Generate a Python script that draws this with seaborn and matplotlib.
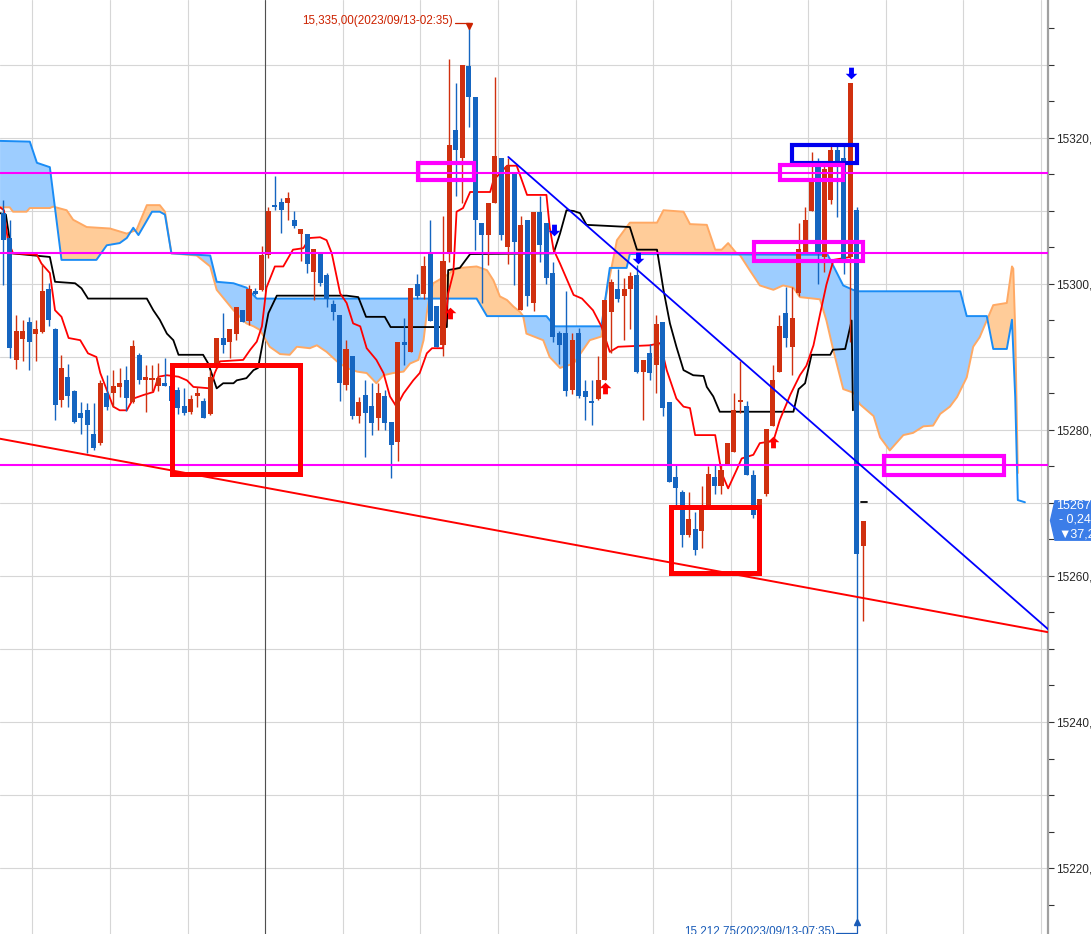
import numpy as np
import pandas as pd
import matplotlib
matplotlib.use('Agg')
import matplotlib.pyplot as plt
import matplotlib.transforms as mtransforms
from matplotlib.patches import Rectangle, Polygon
from matplotlib.ticker import MultipleLocator, FuncFormatter
import seaborn as sns

# 5-minute candles, bar 0 = 20:35 on the left, bar 133 = 07:40
opens = [15309.7, 15306.3, 15289.6, 15292.5, 15294.8, 15293.2, 15293.4, 15299.3, 15293.9, 15284.1,
         15287.2, 15285.3, 15282.3, 15282.7, 15279.5, 15278.2, 15285.0, 15285.0, 15285.9, 15286.8,
         15283.9, 15290.3, 15286.8, 15286.9, 15286.0, 15286.5, 15286.0, 15285.5, 15283.3, 15282.4,
         15284.7, 15284.0, 15282.2, 15288.5, 15292.6, 15292.0, 15293.2, 15296.4, 15294.9, 15299.0,
         15299.2, 15304.0, 15310.8, 15311.2, 15311.1, 15308.8, 15306.9, 15306.9, 15301.7, 15304.2,
         15301.2, 15297.2, 15295.8, 15286.2, 15290.1, 15281.9, 15284.8, 15283.3, 15281.6, 15284.6,
         15281.1, 15278.4, 15292.1, 15290.7, 15300.0, 15298.6, 15304.2, 15297.0, 15291.6, 15304.2,
         15321.1, 15317.2, 15329.9, 15325.6, 15308.4, 15306.7, 15311.1, 15317.2, 15305.0, 15315.4,
         15296.4, 15308.8, 15297.4, 15309.8, 15308.4, 15301.5, 15293.3, 15293.3, 15285.5, 15293.3,
         15285.3, 15283.9, 15284.2, 15286.8, 15296.2, 15299.3, 15298.3, 15299.3, 15301.2, 15288.0,
         15290.5, 15288.9, 15294.8, 15283.8, 15273.5, 15271.5, 15265.6, 15266.5, 15266.2, 15269.6,
         15273.5, 15272.3, 15275.3, 15277.0, 15283.8, 15283.3, 15273.8, 15269.6, 15271.2, 15280.5,
         15288.0, 15296.0, 15291.4, 15298.7, 15304.2, 15310.0, 15316.0, 15303.7, 15311.5, 15318.4,
         15317.3, 15303.7, 15310.2, 15264.1]
highs = [15311.5, 15308.8, 15295.8, 15295.1, 15295.5, 15295.1, 15302.8, 15300.1, 15294.0, 15290.3,
         15289.0, 15285.5, 15283.9, 15283.7, 15283.7, 15286.8, 15287.5, 15288.2, 15288.5, 15288.7,
         15292.3, 15290.5, 15288.9, 15288.9, 15289.2, 15289.8, 15286.5, 15285.9, 15285.8, 15284.8,
         15285.9, 15284.4, 15288.2, 15292.6, 15296.0, 15293.8, 15296.8, 15296.4, 15299.9, 15299.4,
         15305.2, 15310.5, 15314.8, 15311.8, 15312.6, 15310.0, 15307.5, 15306.9, 15304.8, 15304.2,
         15301.5, 15297.8, 15295.8, 15292.3, 15290.1, 15284.5, 15286.8, 15286.4, 15286.4, 15285.5,
         15281.1, 15292.1, 15295.3, 15299.4, 15301.3, 15303.8, 15308.8, 15297.0, 15309.3, 15330.8,
         15327.5, 15330.0, 15335.0, 15325.6, 15308.4, 15311.1, 15328.4, 15317.2, 15317.2, 15315.4,
         15309.3, 15308.8, 15309.8, 15312.0, 15308.4, 15303.0, 15293.5, 15299.0, 15293.3, 15294.0,
         15286.8, 15286.8, 15290.2, 15297.8, 15300.7, 15302.0, 15300.8, 15301.7, 15302.6, 15289.6,
         15291.8, 15295.8, 15294.8, 15283.8, 15275.2, 15271.8, 15271.5, 15268.8, 15272.3, 15275.0,
         15275.2, 15275.2, 15278.2, 15285.0, 15289.4, 15284.0, 15274.5, 15270.5, 15280.2, 15288.9,
         15295.8, 15299.6, 15299.6, 15308.4, 15310.5, 15318.1, 15317.2, 15316.5, 15319.0, 15319.0,
         15319.0, 15327.5, 15310.5, 15267.5]
lows = [15299.9, 15289.8, 15288.3, 15289.4, 15288.2, 15289.4, 15293.3, 15294.2, 15281.4, 15283.2,
        15283.2, 15281.0, 15279.5, 15276.8, 15277.3, 15277.9, 15282.7, 15283.2, 15284.5, 15282.6,
        15283.7, 15286.3, 15282.5, 15285.4, 15285.4, 15286.0, 15283.5, 15282.2, 15282.1, 15282.2,
        15283.2, 15281.7, 15282.1, 15288.5, 15290.5, 15289.9, 15292.3, 15294.8, 15294.4, 15298.5,
        15299.0, 15303.5, 15310.2, 15307.0, 15308.8, 15307.6, 15303.1, 15301.5, 15297.8, 15299.7,
        15296.9, 15295.1, 15284.0, 15285.5, 15281.5, 15281.0, 15276.3, 15279.3, 15280.0, 15280.0,
        15273.4, 15275.8, 15288.9, 15290.7, 15298.0, 15298.0, 15294.9, 15291.4, 15290.1, 15303.0,
        15312.0, 15311.1, 15321.5, 15304.7, 15297.4, 15302.6, 15311.1, 15306.0, 15302.8, 15299.9,
        15296.4, 15297.0, 15296.3, 15303.0, 15300.0, 15292.0, 15289.0, 15284.6, 15284.9, 15284.4,
        15281.4, 15280.7, 15284.1, 15286.8, 15290.5, 15297.5, 15292.3, 15293.8, 15287.8, 15281.4,
        15286.9, 15285.0, 15281.9, 15272.9, 15269.7, 15264.0, 15265.4, 15262.9, 15263.8, 15269.5,
        15271.3, 15271.3, 15275.3, 15277.0, 15282.3, 15273.8, 15267.9, 15269.4, 15271.0, 15280.5,
        15288.0, 15291.4, 15287.5, 15298.3, 15304.2, 15310.0, 15300.0, 15301.6, 15311.0, 15309.2,
        15301.3, 15292.1, 15212.75, 15253.9]
closes = [15306.0, 15291.2, 15293.6, 15293.6, 15292.0, 15293.9, 15299.0, 15295.0, 15283.4, 15288.5,
          15284.7, 15281.1, 15281.7, 15280.7, 15277.5, 15286.5, 15283.2, 15286.0, 15286.5, 15284.4,
          15291.5, 15286.8, 15287.3, 15287.1, 15287.1, 15286.0, 15284.0, 15283.0, 15282.3, 15284.2,
          15285.0, 15281.7, 15287.3, 15292.6, 15291.6, 15293.8, 15296.8, 15294.8, 15299.3, 15298.6,
          15304.0, 15310.0, 15310.5, 15310.1, 15311.8, 15307.9, 15307.5, 15302.7, 15304.8, 15300.2,
          15298.0, 15296.2, 15286.5, 15291.1, 15281.9, 15283.9, 15282.3, 15281.0, 15285.1, 15281.0,
          15277.9, 15292.1, 15291.7, 15299.4, 15298.3, 15302.4, 15294.9, 15291.4, 15303.1, 15319.0,
          15318.4, 15330.0, 15325.6, 15308.7, 15306.7, 15311.1, 15317.5, 15306.7, 15316.2, 15305.7,
          15308.1, 15298.3, 15309.8, 15305.3, 15300.8, 15292.7, 15291.6, 15285.3, 15292.3, 15284.7,
          15284.5, 15283.7, 15286.8, 15297.8, 15300.3, 15298.0, 15299.3, 15301.1, 15288.0, 15289.6,
          15287.8, 15294.5, 15283.0, 15272.9, 15272.0, 15265.6, 15267.8, 15263.6, 15269.6, 15274.0,
          15272.3, 15274.5, 15278.2, 15282.7, 15283.9, 15273.8, 15268.3, 15270.5, 15280.2, 15286.8,
          15294.2, 15292.6, 15295.3, 15304.8, 15308.8, 15314.0, 15304.2, 15315.8, 15318.4, 15316.9,
          15303.4, 15327.5, 15263.0, 15267.5]

# conversion line (red) and base line (black), read as breakpoints (bar index, price)
tenkan_x = [-0.5, 0.1, 0.7, 1.5, 5.2, 5.9, 7.2, 8.0, 9.0, 10.1, 11.9, 13.1, 14.4, 15.0, 16.0, 17.0, 18.0,
            19.1, 20.1, 21.7, 23.2, 24.0, 25.3, 27.1, 28.4, 29.4, 32.0, 32.7, 33.5, 37.1, 38.2, 39.2,
            40.0, 40.7, 42.0, 43.3, 44.8, 46.4, 47.4, 49.0, 50.0, 50.8, 52.1, 53.1, 54.1, 55.2, 56.2,
            57.7, 58.8, 59.8, 60.8, 61.9, 63.4, 64.4, 65.5, 66.3, 68.0, 68.8, 69.6, 70.1, 71.1, 72.2,
            75.3, 75.8, 77.9, 79.4, 81.0, 84.0, 84.5, 85.1, 86.1, 88.2, 89.5, 91.2, 92.5, 93.8, 95.1,
            100.0, 101.6, 102.6, 104.1, 105.2, 106.2, 107.0, 110.1, 111.1, 112.1, 113.4, 114.2, 116.0,
            117.0, 119.1, 120.1, 121.7, 123.2, 124.2, 125.3, 126.3, 127.3, 128.4, 131.0]
tenkan_y = [15310.5, 15310.1, 15306.0, 15304.2, 15304.0, 15302.8, 15301.5, 15296.4, 15295.5, 15292.6,
            15292.3, 15290.5, 15290.0, 15287.8, 15285.5, 15283.2, 15282.7, 15282.7, 15284.3, 15284.8,
            15285.2, 15287.3, 15287.5, 15287.3, 15286.8, 15285.9, 15285.7, 15287.8, 15289.4, 15289.6,
            15291.0, 15292.1, 15294.2, 15299.5, 15302.4, 15302.4, 15304.7, 15304.9, 15306.3, 15306.4,
            15306.0, 15304.2, 15298.7, 15297.4, 15294.6, 15294.2, 15291.2, 15289.6, 15287.8, 15284.6,
            15283.2, 15285.0, 15286.8, 15287.8, 15290.5, 15291.2, 15291.2, 15298.7, 15301.5, 15309.9,
            15310.4, 15312.6, 15312.6, 15314.2, 15316.2, 15316.2, 15312.2, 15312.2, 15307.8, 15304.7,
            15302.8, 15298.5, 15298.0, 15296.4, 15294.2, 15290.7, 15291.4, 15291.6, 15291.9, 15288.2,
            15284.3, 15283.2, 15283.0, 15279.3, 15279.3, 15274.1, 15272.0, 15274.5, 15276.1, 15276.6,
            15278.2, 15278.5, 15281.4, 15284.8, 15287.5, 15288.8, 15291.6, 15295.8, 15299.9, 15303.3,
            15303.7]
kijun_x = [-0.5, 0.4, 1.3, 7.2, 8.0, 11.1, 12.1, 13.1, 22.2, 23.2, 24.2, 25.3, 26.3, 27.1, 30.9, 31.7,
           33.0, 34.0, 35.6, 36.1, 37.6, 38.7, 39.4, 40.2, 41.0, 42.3, 53.1, 54.9, 56.1, 59.0, 59.9,
           68.6, 68.8, 70.6, 72.2, 85.1, 86.1, 87.1, 88.2, 89.2, 90.2, 96.9, 98.0, 101.1, 102.1, 103.1,
           104.1, 105.2, 106.7, 108.3, 108.8, 109.8, 110.8, 122.2, 123.0, 124.0, 125.0, 127.9, 128.3,
           130.2, 131.2, 131.4]
kijun_y = [15309.7, 15309.5, 15304.2, 15303.7, 15300.3, 15300.1, 15299.4, 15298.0, 15298.0, 15296.4,
           15295.1, 15293.2, 15292.3, 15290.3, 15290.3, 15289.1, 15285.7, 15286.4, 15286.4, 15286.8,
           15287.1, 15288.2, 15288.5, 15292.3, 15296.0, 15298.4, 15298.4, 15298.2, 15295.5, 15295.5,
           15294.1, 15294.1, 15301.9, 15302.2, 15304.1, 15304.2, 15306.9, 15310.1, 15310.0, 15309.7,
           15308.1, 15307.8, 15304.7, 15304.7, 15299.2, 15294.6, 15291.4, 15288.2, 15287.5, 15287.4,
           15285.9, 15284.6, 15282.5, 15282.5, 15285.6, 15286.4, 15290.3, 15290.3, 15291.0, 15291.1,
           15295.0, 15282.7]
kijun_last_x = [132.6, 133.5]
kijun_last_y = [15270.1, 15270.1]

# leading spans of the cloud (blue line and orange line)
span_blue_x = [-0.5, 4.1, 5.2, 7.2, 9.0, 14.4, 16.0, 18.0, 19.1, 20.1, 20.9, 23.0, 24.2, 25.0, 26.0,
               32.0, 33.0, 35.6, 37.6, 39.2, 73.2, 74.8, 84.0, 85.3, 92.5, 93.8, 96.4, 96.9, 127.5,
               129.9, 131.4, 132.1, 148.0, 149.0, 152.1, 153.1, 155.2, 156.0, 156.5, 156.9, 158.0]
span_blue_y = [15319.6, 15319.5, 15316.6, 15316.0, 15303.3, 15303.3, 15305.3, 15305.6, 15306.3, 15307.7,
               15306.7, 15309.9, 15309.9, 15309.5, 15304.2, 15303.9, 15300.3, 15300.1, 15299.5, 15298.0,
               15298.0, 15295.6, 15295.6, 15294.2, 15294.2, 15302.2, 15302.2, 15304.1, 15304.0, 15299.8,
               15299.2, 15299.0, 15299.0, 15295.6, 15295.6, 15291.1, 15291.1, 15295.1, 15284.5, 15270.4,
               15270.1]
span_orange_x = [-0.5, 1.0, 1.5, 3.6, 4.1, 7.2, 7.7, 9.8, 10.8, 12.9, 16.5, 19.1, 20.6, 22.2, 24.2,
                 25.0, 26.0, 29.9, 32.0, 33.0, 35.6, 37.6, 38.7, 39.7, 41.2, 42.8, 44.3, 45.4, 47.4,
                 48.5, 50.0, 51.6, 53.1, 54.7, 56.2, 57.7, 58.8, 60.3, 61.9, 62.9, 64.2, 65.0, 65.5,
                 66.0, 66.5, 68.6, 69.6, 70.6, 73.2, 74.8, 75.8, 76.8, 77.9, 78.9, 79.9, 80.4, 80.9,
                 83.5, 84.5, 86.1, 88.2, 90.7, 92.5, 93.1, 94.1, 94.9, 96.9, 101.1, 102.1, 105.2, 106.2,
                 108.8, 110.1, 111.1, 112.1, 113.4, 113.9, 115.5, 117.0, 119.1, 120.6, 122.2, 123.2,
                 126.3, 127.3, 128.4, 129.9, 131.5, 132.5, 134.6, 135.6, 137.1, 139.2, 140.7, 142.3,
                 143.8, 144.9, 146.4, 147.5, 149.0, 150.0, 151.0, 152.1, 153.1, 155.2, 156.0, 156.2,
                 156.5, 156.9]
span_orange_y = [15310.5, 15310.5, 15309.9, 15309.9, 15310.4, 15310.4, 15310.6, 15310.1, 15308.8, 15307.8,
                 15307.6, 15306.9, 15307.4, 15310.8, 15310.8, 15309.9, 15304.2, 15303.9, 15302.4, 15299.2,
                 15296.4, 15294.6, 15294.2, 15293.7, 15291.4, 15290.4, 15290.3, 15291.4, 15291.2, 15291.6,
                 15290.7, 15289.4, 15288.5, 15288.0, 15287.8, 15286.4, 15287.5, 15287.8, 15288.0, 15289.1,
                 15289.6, 15292.3, 15296.0, 15298.7, 15300.1, 15301.2, 15301.9, 15302.2, 15302.4, 15301.9,
                 15300.5, 15298.3, 15297.8, 15296.9, 15296.2, 15295.6, 15293.2, 15292.3, 15290.0, 15288.5,
                 15289.1, 15292.3, 15292.8, 15297.8, 15302.4, 15306.0, 15308.4, 15308.4, 15310.1, 15309.9,
                 15308.2, 15308.1, 15304.7, 15304.7, 15305.6, 15304.2, 15304.0, 15301.8, 15299.8, 15299.2,
                 15299.8, 15299.5, 15298.2, 15297.9, 15295.0, 15290.8, 15285.6, 15285.1, 15283.5, 15281.9,
                 15279.0, 15277.2, 15279.3, 15279.6, 15280.5, 15280.6, 15282.2, 15283.2, 15284.5, 15287.2,
                 15291.4, 15292.7, 15295.0, 15297.1, 15297.4, 15302.4, 15302.1, 15293.7, 15274.1]

# drawn objects: horizontal levels, trend lines, boxes
level_prices = [15315.2, 15304.3, 15275.2]
trend_red_x, trend_red_y = [-0.5, 161.6], [15278.8, 15252.3]
trend_blue_x, trend_blue_y = [78.1, 161.6], [15317.4, 15252.7]
box_x0 = [26.1, 103.3, 64.1, 122.0, 120.1, 116.1, 136.2]
box_x1 = [45.9, 116.9, 72.8, 132.0, 129.9, 133.0, 154.8]
box_lo = [15274.0, 15260.4, 15314.25, 15316.6, 15314.2, 15303.15, 15273.85]
box_hi = [15288.9, 15269.45, 15316.6, 15319.05, 15316.25, 15305.7, 15276.45]
box_colors = ['#ff0000', '#ff0000', '#ff00ff', '#0000ee', '#ff00ff', '#ff00ff', '#ff00ff']

# signal arrows
buy_x, buy_y = [69.1, 93.1, 119.1], [15296.0, 15285.8, 15278.3]
sell_x, sell_y = [85.1, 98.1, 131.1], [15307.4, 15303.5, 15328.9]

# current price tag lines
tag_lines = ['15267,50', '- 0,24%', '\u25bc37,25']
tag_prices = [15269.7, 15267.7, 15265.7]

RED = '#d0300f'
BLUE = '#1565c0'

sns.set_style('white')
plt.rcParams['font.family'] = ['Liberation Sans', 'DejaVu Sans']

fig = plt.figure(figsize=(10.91, 9.34), dpi=100)
ax = fig.add_axes([0, 0, 1048 / 1091, 1])
ax.set_xlim(-0.51, 161.57)
ax.set_ylim(15210.96, 15338.9)

# grid: hourly verticals, 10-point horizontals, day separator
for gy in np.arange(15220, 15331, 10):
    ax.axhline(gy, color='#d6d6d6', lw=0.8, zorder=0)
for gx in np.arange(4.5, 161, 12):
    ax.axvline(gx, color='#d6d6d6', lw=0.8, zorder=0)
ax.axvline(40.5, color='#505050', lw=0.8, zorder=0.5)

# cloud
grid = np.linspace(-0.5, 156.9, 3000)
a = np.interp(grid, span_orange_x, span_orange_y)
b = np.interp(grid, span_blue_x, span_blue_y)
ax.fill_between(grid, a, b, where=a >= b, interpolate=True, color='#ffcc99', lw=0, zorder=1)
ax.fill_between(grid, a, b, where=b > a, interpolate=True, color='#9dcdff', lw=0, zorder=1)
sns.lineplot(x=span_orange_x, y=span_orange_y, ax=ax, color='#ffa964', lw=1.4,
             sort=False, estimator=None, zorder=2)
sns.lineplot(x=span_blue_x, y=span_blue_y, ax=ax, color='#1a8cf5', lw=1.4,
             sort=False, estimator=None, zorder=2)

# tenkan / kijun
sns.lineplot(x=kijun_x, y=kijun_y, ax=ax, color='black', lw=1.3, sort=False, estimator=None, zorder=3)
sns.lineplot(x=kijun_last_x, y=kijun_last_y, ax=ax, color='black', lw=1.3, sort=False,
             estimator=None, zorder=3)
sns.lineplot(x=tenkan_x, y=tenkan_y, ax=ax, color='#ff0000', lw=1.3, sort=False, estimator=None, zorder=3)

# candles
df = pd.DataFrame({'open': opens, 'high': highs, 'low': lows, 'close': closes})
df['x'] = np.arange(len(df))
colors = np.where(df['close'] >= df['open'], RED, BLUE)
ax.vlines(df['x'], df['low'], df['high'], colors=colors, lw=1.0, zorder=4)
body_lo = df[['open', 'close']].min(axis=1)
body_h = (df['close'] - df['open']).abs().clip(lower=0.25)
ax.bar(df['x'], body_h, bottom=body_lo, width=0.78, color=colors, lw=0, zorder=5)

# drawn objects
for lp in level_prices:
    ax.axhline(lp, color='#ff00ff', lw=1.5, zorder=6)
sns.lineplot(x=trend_red_x, y=trend_red_y, ax=ax, color='#ff0000', lw=1.4, sort=False,
             estimator=None, zorder=6)
sns.lineplot(x=trend_blue_x, y=trend_blue_y, ax=ax, color='#0000ff', lw=1.3, sort=False,
             estimator=None, zorder=6)
for x0, x1, lo, hi, c in zip(box_x0, box_x1, box_lo, box_hi, box_colors):
    lw = 3.6 if c == '#ff0000' else 3.0
    ax.add_patch(Rectangle((x0, lo), x1 - x0, hi - lo, fill=False, edgecolor=c, lw=lw, zorder=7))

up_arrow = [(0, 1), (1, 0.05), (0.42, 0.05), (0.42, -1), (-0.42, -1), (-0.42, 0.05), (-1, 0.05), (0, 1)]
down_arrow = [(x, -y) for x, y in up_arrow]
ax.scatter(buy_x, buy_y, marker=up_arrow, s=70, color='#ff0000', lw=0, zorder=8)
ax.scatter(sell_x, sell_y, marker=down_arrow, s=70, color='#0000ff', lw=0, zorder=8)

# high / low annotations
ax.text(69.55, 15336.0, '15,335,00(2023/09/13-02:35)', color='#cc2200', fontsize=8.4,
        ha='right', va='center', zorder=9)
ax.plot([69.9, 72.0], [15335.8, 15335.8], color='#cc2200', lw=0.9, zorder=9)
ax.plot([72.0], [15335.3], marker='v', ms=4, color='#cc2200', zorder=9)
ax.text(128.6, 15211.2, '15,212,75(2023/09/13-07:35)', color='#1a5cb8', fontsize=8.4,
        ha='right', va='center', zorder=9)
ax.plot([128.8, 132.0, 132.0], [15211.1, 15211.1, 15212.4], color='#1a5cb8', lw=0.9, zorder=9)
ax.plot([132.0], [15212.6], marker='^', ms=4, color='#1a5cb8', zorder=9)

# right price axis
ax.yaxis.tick_right()
ax.yaxis.set_major_locator(MultipleLocator(20))
ax.yaxis.set_minor_locator(MultipleLocator(5))
ax.yaxis.set_major_formatter(FuncFormatter(lambda v, p: f'{v:.1f}'.replace('.', ',')))
ax.tick_params(axis='y', which='both', direction='out', length=4, width=0.8, color='#333333',
               labelsize=8.5, pad=2, right=True, left=False)
ax.tick_params(axis='x', bottom=False, labelbottom=False)
for s in ['left', 'top', 'bottom']:
    ax.spines[s].set_visible(False)
ax.spines['right'].set_color('#a0a0a0')
ax.spines['right'].set_linewidth(1.6)

# current price tag
tr = mtransforms.blended_transform_factory(fig.transFigure, ax.transData)
tag = Polygon([(1050.5 / 1091, 15267.6), (1055 / 1091, 15270.3), (1.0, 15270.3), (1.0, 15264.9),
               (1055 / 1091, 15264.9)], closed=True, transform=tr, color='#3b7de8', clip_on=False,
              zorder=10)
fig.add_artist(tag)
for txt, ty, tx in zip(tag_lines, tag_prices, [1056, 1059, 1058]):
    t = fig.text(tx / 1091, 0, txt, color='white', fontsize=9, ha='left', va='center', zorder=11)
    t.set_transform(tr)
    t.set_y(ty)

fig.savefig('out.png', dpi=100)
